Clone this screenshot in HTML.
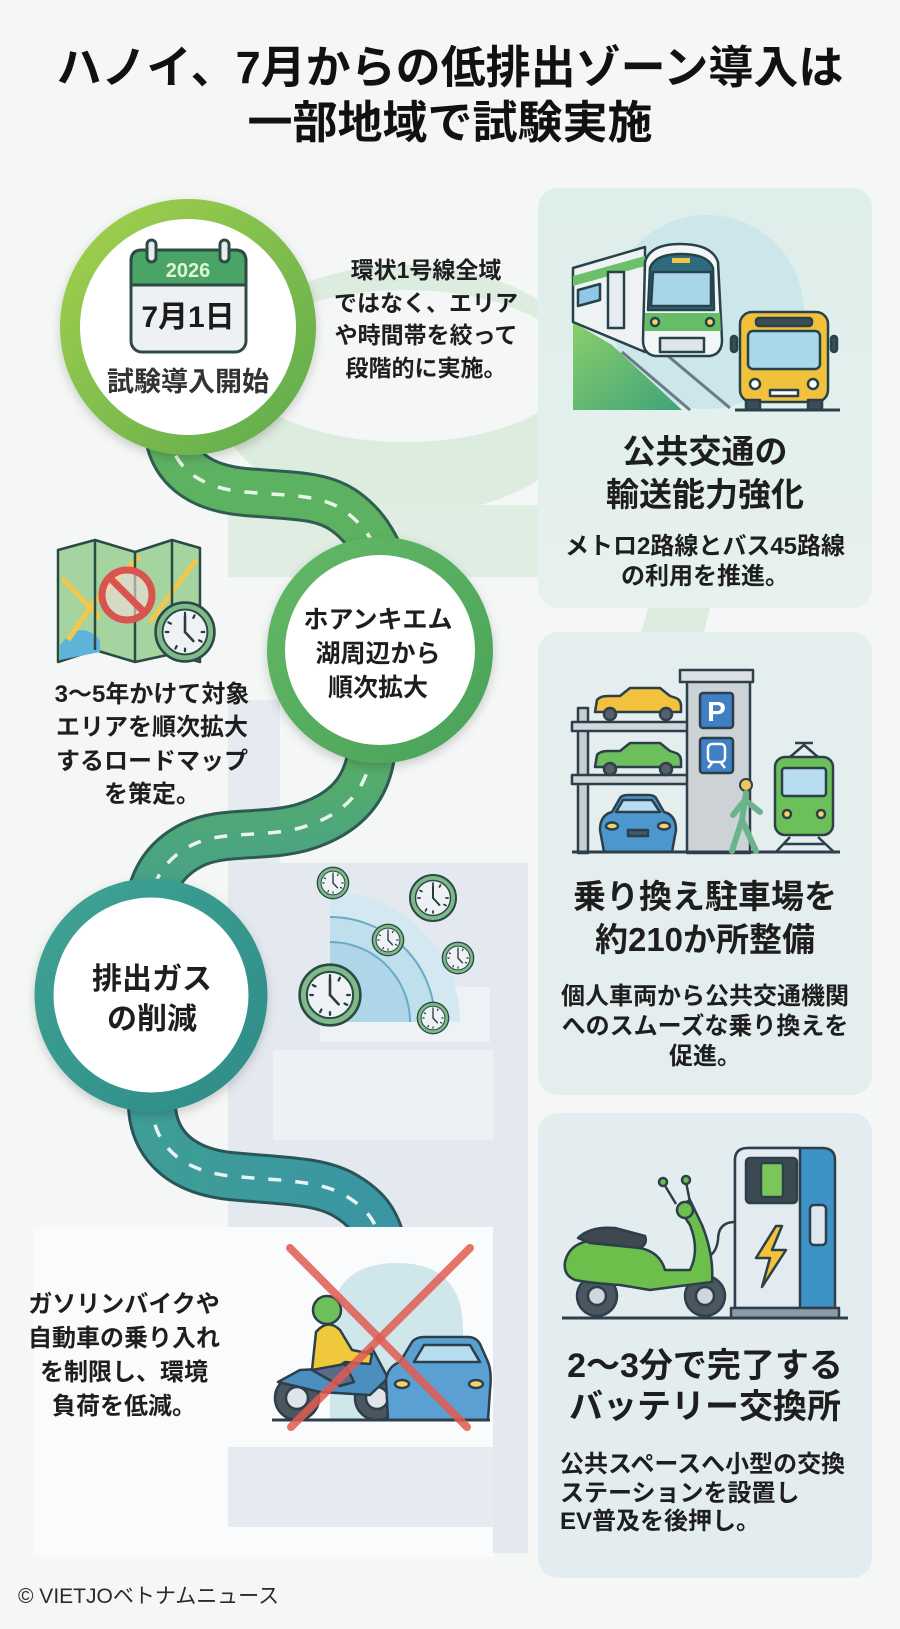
<!DOCTYPE html>
<html><head><meta charset="utf-8">
<style>
*{margin:0;padding:0;box-sizing:border-box}
html,body{width:900px;height:1629px;overflow:hidden;background:#f4f7f5}
body{position:relative;font-family:"Liberation Sans","Noto Sans CJK JP",sans-serif;font-weight:700;color:#1e1e1e}
svg{position:absolute;left:0;top:0}
.t{position:absolute;text-align:center;white-space:nowrap}
</style></head><body>
<svg width="900" height="1629" viewBox="0 0 900 1629">
<defs>
<filter id="sh" x="-20%" y="-20%" width="140%" height="140%"><feDropShadow dx="0" dy="4" stdDeviation="5" flood-color="#000" flood-opacity="0.18"/></filter>
<linearGradient id="g1" x1="0" y1="0" x2="1" y2="1"><stop offset="0" stop-color="#a3d04c"/><stop offset="1" stop-color="#5fac4e"/></linearGradient>
<linearGradient id="g2" x1="0" y1="0" x2="1" y2="1"><stop offset="0" stop-color="#62b865"/><stop offset="1" stop-color="#4aa35a"/></linearGradient>
<linearGradient id="g3" x1="0" y1="0" x2="1" y2="1"><stop offset="0" stop-color="#3fa393"/><stop offset="1" stop-color="#2e8c88"/></linearGradient>
<linearGradient id="r2" gradientUnits="userSpaceOnUse" x1="0" y1="750" x2="0" y2="890"><stop offset="0" stop-color="#58ae64"/><stop offset="1" stop-color="#46a18a"/></linearGradient>
<linearGradient id="r3" gradientUnits="userSpaceOnUse" x1="150" y1="0" x2="400" y2="0"><stop offset="0" stop-color="#3f9d96"/><stop offset="1" stop-color="#3a95a4"/></linearGradient>
<linearGradient id="slope" x1="0" y1="0" x2="1" y2="1"><stop offset="0" stop-color="#8bcf6a"/><stop offset="1" stop-color="#3fa37a"/></linearGradient>
<linearGradient id="c1" x1="0" y1="0" x2="0" y2="1"><stop offset="0" stop-color="#deeeea"/><stop offset="1" stop-color="#e7f1ef"/></linearGradient>
<symbol id="clk" viewBox="-50 -50 100 100">
<circle r="46" fill="#7fbb8a" stroke="#2c4a44" stroke-width="4"/>
<circle r="35" fill="#eef2f5" stroke="#2c4a44" stroke-width="3"/>
<g stroke="#2c3a40" stroke-width="3.5" stroke-linecap="round">
<line x1="0" y1="-30" x2="0" y2="-26"/><line x1="30" y1="0" x2="26" y2="0"/><line x1="0" y1="30" x2="0" y2="26"/><line x1="-30" y1="0" x2="-26" y2="0"/>
<line x1="15" y1="-26" x2="13" y2="-22"/><line x1="26" y1="15" x2="22" y2="13"/><line x1="-15" y1="26" x2="-13" y2="22"/><line x1="-26" y1="-15" x2="-22" y2="-13"/>
<line x1="0" y1="0" x2="0" y2="-24" stroke-width="4"/><line x1="0" y1="0" x2="13" y2="14" stroke-width="4"/>
</g>
</symbol>
</defs>
<rect width="900" height="1629" fill="#f4f7f5"/>
<!-- watermark green -->
<ellipse cx="405" cy="390" rx="192" ry="125" fill="#dcecde"/>
<ellipse cx="405" cy="366" rx="168" ry="76" fill="#f4f7f5"/>
<rect x="228" y="505" width="330" height="72" fill="#e0ede2"/>
<path d="M590 370 C680 410 710 520 670 640 L630 730" stroke="#dcecde" stroke-width="60" fill="none"/>
<!-- watermark blue-gray -->
<rect x="228" y="700" width="52" height="170" fill="#e6ebf1"/>
<rect x="228" y="863" width="300" height="690" fill="#e4e9f0"/>
<rect x="320" y="987" width="170" height="55" fill="#eef1f6"/>
<rect x="273" y="1050" width="220" height="90" fill="#edf0f5"/>
<!-- cards -->
<rect x="538" y="188" width="334" height="420" rx="20" fill="url(#c1)"/>
<rect x="538" y="632" width="334" height="463" rx="20" fill="#e5eeee"/>
<rect x="538" y="1113" width="334" height="465" rx="20" fill="#e3edef"/>
<!-- roads -->
<g fill="none">
<path d="M168 430 C172 468 200 488 245 492 C290 496 322 494 346 512 C362 524 370 536 378 552" stroke="#2f5d50" stroke-width="50"/>
<path d="M168 430 C172 468 200 488 245 492 C290 496 322 494 346 512 C362 524 370 536 378 552" stroke="#5db262" stroke-width="44"/>
<path d="M168 430 C172 468 200 488 245 492 C290 496 322 494 346 512 C362 524 370 536 378 552" stroke="#e9f5e6" stroke-width="3.5" stroke-dasharray="13 14"/>
<path d="M372 748 C368 790 345 815 300 828 C260 838 222 830 192 845 C170 856 158 872 152 892" stroke="#2d5a52" stroke-width="50"/>
<path d="M372 748 C368 790 345 815 300 828 C260 838 222 830 192 845 C170 856 158 872 152 892" stroke="url(#r2)" stroke-width="44"/>
<path d="M372 748 C368 790 345 815 300 828 C260 838 222 830 192 845 C170 856 158 872 152 892" stroke="#eaf5ee" stroke-width="3.5" stroke-dasharray="13 14"/>
<path d="M152 1098 C150 1140 176 1170 230 1176 C282 1181 320 1180 346 1196 C366 1208 376 1220 382 1245" stroke="#2a5558" stroke-width="50"/>
<path d="M152 1098 C150 1140 176 1170 230 1176 C282 1181 320 1180 346 1196 C366 1208 376 1220 382 1245" stroke="url(#r3)" stroke-width="44"/>
<path d="M152 1098 C150 1140 176 1170 230 1176 C282 1181 320 1180 346 1196 C366 1208 376 1220 382 1245" stroke="#e8f4f5" stroke-width="3.5" stroke-dasharray="13 14"/>
</g>
<!-- bottom-left panel -->
<rect x="33" y="1227" width="460" height="330" fill="#fafbfc"/>
<rect x="228" y="1447" width="265" height="80" fill="#e6eaf1"/>
<!-- circles -->
<g filter="url(#sh)">
<circle cx="188" cy="327" r="118" fill="#fff" stroke="url(#g1)" stroke-width="20"/>
<circle cx="380" cy="650" r="104" fill="#fff" stroke="url(#g2)" stroke-width="18"/>
<circle cx="151" cy="995" r="107" fill="#fff" stroke="url(#g3)" stroke-width="19"/>
</g>
<!-- calendar -->
<g stroke="#2d4a45" stroke-width="3">
<rect x="131" y="250" width="115" height="102" rx="11" fill="#eef1f3"/>
<path d="M131 285 L131 261 Q131 250 142 250 L235 250 Q246 250 246 261 L246 285 Z" fill="#4aa466"/>
<rect x="147" y="240" width="9" height="22" rx="4.5" fill="#e8ecef"/>
<rect x="220" y="240" width="9" height="22" rx="4.5" fill="#e8ecef"/>
</g>
<text x="188" y="277" text-anchor="middle" font-size="20" fill="#dff3d5" font-weight="700" font-family="Liberation Sans, sans-serif">2026</text>
<!-- map icon -->
<g stroke="#2c4a44" stroke-width="2.5" stroke-linejoin="round">
<path d="M58 550 L95 540 L135 552 L172 540 L200 548 L200 662 L172 654 L135 662 L95 650 L58 662 Z" fill="#a5d4a0"/>
<path d="M60 645 Q80 618 100 640 L100 652 L60 660 Z" fill="#5db4d8" stroke="none"/>
<path d="M62 578 L100 618 M68 640 L95 600 L140 556 M150 622 L196 560" stroke="#f1c84b" stroke-width="5" fill="none"/>
<path d="M95 540 L95 650 M135 552 L135 662 M172 540 L172 654" fill="none"/>
<circle cx="127" cy="595" r="25" fill="#f6dede" fill-opacity="0.6" stroke="#d9534f" stroke-width="7"/>
<line x1="110" y1="578" x2="144" y2="612" stroke="#d9534f" stroke-width="7"/>
</g>
<use href="#clk" x="153" y="600" width="64" height="64"/>
<!-- fan + clocks -->
<path d="M330 1022 L330 892 A130 130 0 0 1 460 1022 Z" fill="#d3e8f1"/>
<path d="M330 1022 L330 917 A105 105 0 0 1 435 1022 Z" fill="#c0dfec"/>
<path d="M330 1022 L330 942 A80 80 0 0 1 410 1022 Z" fill="#aed6e8"/>
<path d="M330 917 A105 105 0 0 1 435 1022 M330 942 A80 80 0 0 1 410 1022" stroke="#6aaac6" stroke-width="2" fill="none"/>
<use href="#clk" x="297" y="962" width="66" height="66"/>
<use href="#clk" x="316" y="866" width="34" height="34"/>
<use href="#clk" x="408" y="873" width="50" height="50"/>
<use href="#clk" x="371" y="923" width="34" height="34"/>
<use href="#clk" x="441" y="941" width="34" height="34"/>
<use href="#clk" x="416" y="1001" width="34" height="34"/>
<!-- card1 illustration -->
<circle cx="707" cy="312" r="97" fill="#cde6ea"/>
<path d="M573 322 L612 345 L682 410 L573 410 Z" fill="url(#slope)"/>
<g stroke="#26424a" stroke-width="2.5" stroke-linejoin="round">
<path d="M622 352 L690 410 M668 356 L730 408" stroke="#6b7b86" stroke-width="3" fill="none"/>
<path d="M573 268 L645 247 L645 352 L573 322 Z" fill="#eef2f3"/>
<path d="M573 276 L645 256 L645 266 L573 286 Z" fill="#6cc06a" stroke="none"/>
<path d="M578 290 L600 284 L600 300 L578 306 Z" fill="#8fc7e4"/>
<rect x="608" y="272" width="16" height="56" fill="#e6ecef"/>
<path d="M645 262 Q650 244 680 244 Q712 244 718 262 L722 340 Q722 354 710 356 L655 356 Q643 354 643 340 Z" fill="#f3f6f7"/>
<path d="M650 268 Q655 254 681 254 Q708 254 713 268 L714 310 L648 310 Z" fill="#2f6b7f"/>
<path d="M653 272 L711 272 L711 306 L651 306 Z" fill="#a7d5ea"/>
<rect x="672" y="258" width="18" height="5" fill="#f4c542" stroke="none"/>
<path d="M645 313 L720 313 L721 331 L644 331 Z" fill="#66bd66" stroke="none"/>
<circle cx="655" cy="322" r="4" fill="#f6d36b"/><circle cx="710" cy="322" r="4" fill="#f6d36b"/>
<rect x="660" y="338" width="44" height="14" fill="#dfe5e8"/>
<rect x="740" y="312" width="88" height="90" rx="12" fill="#f2c13c"/>
<rect x="756" y="318" width="56" height="8" rx="3" fill="#3d4c54"/>
<rect x="748" y="331" width="72" height="38" rx="5" fill="#a9d8ec"/>
<circle cx="755" cy="384" r="5" fill="#fff"/><circle cx="813" cy="384" r="5" fill="#fff"/>
<rect x="770" y="390" width="28" height="6" fill="#fff"/>
<rect x="746" y="400" width="14" height="10" fill="#3d4c54"/><rect x="808" y="400" width="14" height="10" fill="#3d4c54"/>
<rect x="731" y="336" width="6" height="16" rx="3" fill="#3d4c54"/><rect x="831" y="336" width="6" height="16" rx="3" fill="#3d4c54"/>
<line x1="735" y1="410" x2="840" y2="410" stroke-width="3"/>
</g>
<!-- card2 illustration -->
<g stroke="#2c3f4a" stroke-width="2.5" stroke-linejoin="round">
<rect x="578" y="708" width="10" height="145" fill="#c9ced3"/>
<rect x="572" y="722" width="116" height="9" fill="#d2d7dc"/>
<rect x="572" y="775" width="116" height="9" fill="#d2d7dc"/>
<rect x="687" y="680" width="63" height="173" fill="#cdd2d7"/>
<rect x="680" y="670" width="73" height="12" fill="#dde1e5"/>
<rect x="700" y="693" width="33" height="35" rx="3" fill="#3f7fc3"/>
<rect x="700" y="738" width="33" height="35" rx="3" fill="#3f7fc3"/>
<rect x="708" y="744" width="17" height="18" rx="4" fill="none" stroke="#fff" stroke-width="2.5"/>
<path d="M708 768 L712 763 M725 768 L721 763" stroke="#fff" stroke-width="2.5"/>
<path d="M595 712 L597 700 Q600 696 608 696 L620 696 L630 688 L660 688 L670 696 L676 698 Q681 700 681 706 L681 712 Z" fill="#f2c23f"/>
<circle cx="610" cy="714" r="6" fill="#55606a"/><circle cx="666" cy="714" r="6" fill="#55606a"/>
<path d="M595 767 L597 755 Q600 751 608 751 L620 751 L630 743 L660 743 L670 751 L676 753 Q681 755 681 761 L681 767 Z" fill="#6cbf5c"/>
<circle cx="610" cy="769" r="6" fill="#55606a"/><circle cx="666" cy="769" r="6" fill="#55606a"/>
<path d="M604 852 L600 830 Q600 815 612 812 L620 798 Q622 795 628 795 L648 795 Q654 795 656 798 L664 812 Q676 815 676 830 L672 852 Z" fill="#4d97cf"/>
<path d="M616 812 L623 800 L652 800 L660 812 Z" fill="#b5dcf0"/>
<ellipse cx="612" cy="826" rx="6" ry="3.5" fill="#f3d36a"/><ellipse cx="664" cy="826" rx="6" ry="3.5" fill="#f3d36a"/>
<rect x="628" y="830" width="20" height="6" fill="#3d5a70"/>
<rect x="775" y="757" width="58" height="78" rx="10" fill="#6cc05a"/>
<rect x="782" y="768" width="44" height="28" rx="3" fill="#b7def0"/>
<circle cx="787" cy="814" r="4" fill="#f3d36a"/><circle cx="821" cy="814" r="4" fill="#f3d36a"/>
<path d="M790 757 L804 745 L818 757 M795 743 L813 743" fill="none"/>
<path d="M790 837 L775 853 M818 837 L835 853 M784 844 L826 844" fill="none"/>
<line x1="572" y1="852" x2="840" y2="852" stroke-width="3"/>
</g>
<text x="716.5" y="721" text-anchor="middle" font-size="28" fill="#fff" font-weight="700" font-family="Liberation Sans, sans-serif">P</text>
<circle cx="746" cy="785" r="6" fill="#f1c75a" stroke="#2c3f4a" stroke-width="2"/>
<path d="M746 793 L742 820 L732 851 M742 820 L756 851 M745 800 L733 815 M745 800 L760 812" stroke="#6bb38c" stroke-width="6" stroke-linecap="round" fill="none"/>
<!-- card3 illustration -->
<g stroke="#2c3f4a" stroke-width="2.5" stroke-linejoin="round">
<path d="M735 1160 Q735 1148 748 1148 L822 1148 Q835 1148 835 1160 L835 1308 L735 1308 Z" fill="#3d92c6"/>
<path d="M735 1160 Q735 1148 748 1148 L800 1148 L800 1308 L735 1308 Z" fill="#e3eaf0"/>
<rect x="746" y="1158" width="51" height="45" rx="4" fill="#3b4a52"/>
<rect x="761" y="1163" width="22" height="34" rx="2" fill="#7cc75a" stroke="#2c3f4a"/>
<path d="M776 1226 L756 1258 L770 1258 L762 1287 L786 1250 L772 1250 L782 1226 Z" fill="#f3c13a"/>
<rect x="810" y="1205" width="16" height="40" rx="4" fill="#dfe7ee"/>
<rect x="731" y="1308" width="108" height="10" fill="#8c9aa6"/>
<path d="M735 1222 Q718 1222 718 1240 Q716 1255 705 1258" fill="none"/>
<circle cx="597" cy="1296" r="20" fill="#4b5660"/><circle cx="597" cy="1296" r="9" fill="#cfd6dc"/>
<circle cx="705" cy="1296" r="20" fill="#4b5660"/><circle cx="705" cy="1296" r="9" fill="#cfd6dc"/>
<path d="M565 1262 Q570 1240 600 1240 L640 1248 Q660 1252 665 1270 L690 1270 Q700 1250 690 1225 L678 1207 L690 1200 L702 1225 Q714 1255 712 1282 L680 1286 L650 1290 L620 1285 Q590 1283 575 1280 Q563 1275 565 1262 Z" fill="#6cbf4a"/>
<path d="M578 1238 Q590 1226 615 1228 L645 1236 Q648 1244 640 1248 L590 1243 Z" fill="#3f4850"/>
<circle cx="685" cy="1210" r="8" fill="#6cbf4a"/>
<path d="M676 1204 L664 1184 M690 1202 L686 1182" fill="none"/>
<circle cx="663" cy="1182" r="4" fill="#6cbf4a"/><circle cx="686" cy="1180" r="4" fill="#6cbf4a"/>
<line x1="562" y1="1318" x2="848" y2="1318" stroke-width="3"/>
</g>
<!-- bottom-left illustration -->
<path d="M330 1420 L330 1330 Q330 1263 397 1263 Q463 1263 463 1330 L463 1420 Z" fill="#cfe6ea"/>
<g stroke="#2c3f4a" stroke-width="2.5" stroke-linejoin="round">
<circle cx="297" cy="1398" r="22" fill="#4b5660"/><circle cx="297" cy="1398" r="11" fill="#dfe5ea"/>
<circle cx="377" cy="1398" r="22" fill="#4b5660"/><circle cx="377" cy="1398" r="11" fill="#dfe5ea"/>
<path d="M278 1382 L300 1370 L340 1368 L360 1358 L372 1348 L388 1378 L370 1395 L320 1392 Z" fill="#4a8fc0"/>
<path d="M316 1332 Q328 1318 340 1330 L352 1350 L372 1354 L370 1364 L345 1362 L330 1372 L312 1370 Z" fill="#f0c83c"/>
<path d="M312 1370 L345 1364 L354 1382 L340 1386 Z" fill="#5c6a8a"/>
<circle cx="327" cy="1310" r="14" fill="#6cc05a"/>
<path d="M388 1420 L386 1380 Q388 1366 400 1362 L412 1342 Q416 1337 424 1337 L468 1337 Q476 1337 480 1344 L488 1362 Q492 1372 490 1390 L488 1420 Z" fill="#5ba0d2"/>
<path d="M414 1362 L424 1345 L470 1345 L480 1362 Z" fill="#b8dcef"/>
<ellipse cx="402" cy="1384" rx="7" ry="4" fill="#f3d36a"/><ellipse cx="476" cy="1384" rx="7" ry="4" fill="#f3d36a"/>
<line x1="272" y1="1420" x2="490" y2="1420" stroke-width="3"/>
</g>
<g stroke="#e05a50" stroke-width="8" stroke-opacity="0.85" stroke-linecap="round">
<line x1="290" y1="1248" x2="467" y2="1427"/>
<line x1="470" y1="1248" x2="291" y2="1427"/>
</g>
</svg>

<div class="t" style="left:0;width:900px;top:40px;font-size:45px;line-height:55px;color:#111">ハノイ、7月からの低排出ゾーン導入は<br>一部地域で試験実施</div>
<div class="t" style="left:88px;width:200px;top:300px;font-size:30px;line-height:36px;color:#1b1b1b">7月1日</div>
<div class="t" style="left:88px;width:200px;top:365px;font-size:27px;line-height:34px;color:#333">試験導入開始</div>
<div class="t" style="left:326px;width:200px;top:254px;font-size:23px;line-height:32.5px">環状1号線全域<br>ではなく、エリア<br>や時間帯を絞って<br>段階的に実施。</div>
<div class="t" style="left:52px;width:200px;top:678px;font-size:24px;line-height:33.3px">3〜5年かけて対象<br>エリアを順次拡大<br>するロードマップ<br>を策定。</div>
<div class="t" style="left:278px;width:200px;top:603px;font-size:25px;line-height:34px">ホアンキエム<br>湖周辺から<br>順次拡大</div>
<div class="t" style="left:52px;width:200px;top:960px;font-size:30px;line-height:40px">排出ガス<br>の削減</div>
<div class="t" style="left:555px;width:300px;top:430px;font-size:33px;line-height:43px">公共交通の<br>輸送能力強化</div>
<div class="t" style="left:555px;width:300px;top:532px;font-size:24px;line-height:30px">メトロ2路線とバス45路線<br>の利用を推進。</div>
<div class="t" style="left:555px;width:300px;top:875px;font-size:33px;line-height:43px">乗り換え駐車場を<br>約210か所整備</div>
<div class="t" style="left:555px;width:300px;top:982px;font-size:24px;line-height:30px">個人車両から公共交通機関<br>へのスムーズな乗り換えを<br>促進。</div>
<div class="t" style="left:555px;width:300px;top:1346px;font-size:34px;line-height:41px">2〜3分で完了する<br>バッテリー交換所</div>
<div class="t" style="left:560px;top:1451px;font-size:24px;line-height:28.5px;text-align:left">公共スペースへ小型の交換<br>ステーションを設置し<br>EV普及を後押し。</div>
<div class="t" style="left:24px;width:200px;top:1288px;font-size:24px;line-height:34px">ガソリンバイクや<br>自動車の乗り入れ<br>を制限し、環境<br>負荷を低減。</div>
<div class="t" style="left:18px;top:1584px;font-size:21px;line-height:26px;font-weight:400;color:#2a2a2a;text-align:left">© VIETJOベトナムニュース</div>
</body></html>
